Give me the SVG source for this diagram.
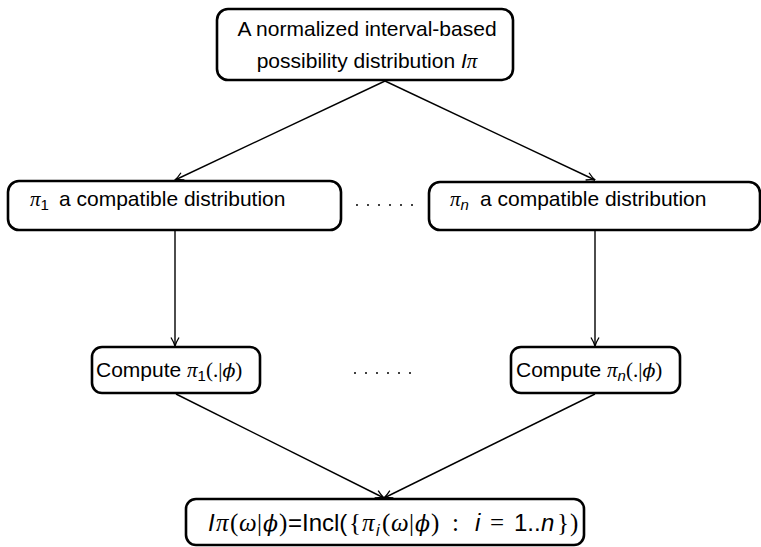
<svg xmlns="http://www.w3.org/2000/svg" width="761" height="547" viewBox="0 0 761 547">
  <style>
    .box { fill: #ffffff; stroke: #000000; stroke-width: 2.6; }
    .edge { fill: none; stroke: #000000; stroke-width: 1.4; }
    .t { font-family: "Liberation Sans", Arial, sans-serif; font-size: 21px; fill: #000000; }
    .m { font-family: "Liberation Serif", "DejaVu Serif", serif; font-style: italic; }
    .r { font-family: "Liberation Serif", "DejaVu Serif", serif; }
    .ph { font-family: "DejaVu Serif", serif; font-style: italic; font-size: 19px; }
    .it { font-style: italic; }
    .sub { font-size: 15px; }
    .big { font-size: 24px; }
    .big .m, .big .r { font-size: 25px; }
    .big .ph { font-size: 22px; }
    .big .sub { font-size: 16px; }
    .dot { fill: #000000; }
  </style>
  <defs>
    <marker id="arrow" viewBox="0 0 10 10" refX="9.5" refY="5" markerWidth="10" markerHeight="10" markerUnits="userSpaceOnUse" orient="auto">
      <path d="M1,1 Q6,4 9.5,5 Q6,6 1,9" fill="none" stroke="#000000" stroke-width="1.3"/>
    </marker>
  </defs>

  <!-- connectors -->
  <g id="connectors">
    <line class="edge" x1="385" y1="81" x2="175" y2="180" marker-end="url(#arrow)"/>
    <line class="edge" x1="385" y1="81" x2="595" y2="180" marker-end="url(#arrow)"/>
    <line class="edge" x1="175" y1="231" x2="175" y2="346" marker-end="url(#arrow)"/>
    <line class="edge" x1="595" y1="231" x2="595" y2="346" marker-end="url(#arrow)"/>
    <line class="edge" x1="176" y1="394" x2="384" y2="498" marker-end="url(#arrow)"/>
    <line class="edge" x1="595" y1="394" x2="384" y2="498" marker-end="url(#arrow)"/>
  </g>

  <!-- source distribution -->
  <g id="node-source">
    <rect class="box" x="217" y="9" width="296" height="71" rx="11"/>
    <text class="t" x="367" y="36" text-anchor="middle">A normalized interval-based</text>
    <text class="t" x="367" y="68" text-anchor="middle">possibility distribution <tspan class="it">I</tspan><tspan class="m">π</tspan></text>
  </g>

  <!-- compatible distributions -->
  <g id="node-pi1">
    <rect class="box" x="8" y="181" width="333" height="49" rx="11"/>
    <text class="t" x="30" y="206"><tspan class="m">π</tspan><tspan class="sub" dy="4">1</tspan><tspan x="59" dy="-4">a compatible distribution</tspan></text>
  </g>

  <g id="node-pin">
    <rect class="box" x="429" y="182" width="331" height="48" rx="11"/>
    <text class="t" x="450" y="206"><tspan class="m">π</tspan><tspan class="sub it" dy="4">n</tspan><tspan x="480" dy="-4">a compatible distribution</tspan></text>
  </g>

  <g id="dots-top">
    <circle class="dot" cx="357" cy="205" r="1"/>
    <circle class="dot" cx="368" cy="205" r="1"/>
    <circle class="dot" cx="379" cy="205" r="1"/>
    <circle class="dot" cx="390" cy="205" r="1"/>
    <circle class="dot" cx="401" cy="205" r="1"/>
    <circle class="dot" cx="412" cy="205" r="1"/>
  </g>

  <!-- conditioning steps -->
  <g id="node-compute1">
    <rect class="box" x="92" y="347" width="168" height="46" rx="10"/>
    <text class="t" x="96" y="377">Compute <tspan class="m">π</tspan><tspan class="sub" dy="4">1</tspan><tspan class="r" dy="-4">(.|</tspan><tspan class="ph">ϕ</tspan><tspan class="r">)</tspan></text>
  </g>

  <g id="node-computen">
    <rect class="box" x="511" y="347" width="169" height="46" rx="10"/>
    <text class="t" x="516" y="377">Compute <tspan class="m">π</tspan><tspan class="sub it" dy="4">n</tspan><tspan class="r" dy="-4">(.|</tspan><tspan class="ph">ϕ</tspan><tspan class="r">)</tspan></text>
  </g>

  <g id="dots-middle">
    <circle class="dot" cx="355" cy="373" r="1"/>
    <circle class="dot" cx="366" cy="373" r="1"/>
    <circle class="dot" cx="377" cy="373" r="1"/>
    <circle class="dot" cx="388" cy="373" r="1"/>
    <circle class="dot" cx="399" cy="373" r="1"/>
    <circle class="dot" cx="410" cy="373" r="1"/>
  </g>

  <!-- combined result -->
  <g id="node-result">
    <rect class="box" x="186" y="499" width="398" height="46" rx="10"/>
    <text class="t big" y="531"><tspan class="it" x="208">I</tspan><tspan class="m" x="216">π</tspan><tspan class="r" x="230">(</tspan><tspan class="m" x="239">ω</tspan><tspan class="r" x="257">|</tspan><tspan class="ph" x="263">ϕ</tspan><tspan class="r" x="279">)</tspan><tspan x="288">=Incl(</tspan><tspan class="r" x="349">{</tspan><tspan class="m" x="362">π</tspan><tspan class="sub it" x="376" dy="5">i</tspan><tspan class="r" x="382" dy="-5">(</tspan><tspan class="m" x="391">ω</tspan><tspan class="r" x="409">|</tspan><tspan class="ph" x="415">ϕ</tspan><tspan class="r" x="431">)</tspan><tspan class="r" x="452">:</tspan><tspan class="it" x="475">i</tspan><tspan class="r" x="490">=</tspan><tspan x="514">1..</tspan><tspan class="it" x="541">n</tspan><tspan class="r" x="557">}</tspan><tspan class="r" x="570">)</tspan></text>
  </g>
</svg>
